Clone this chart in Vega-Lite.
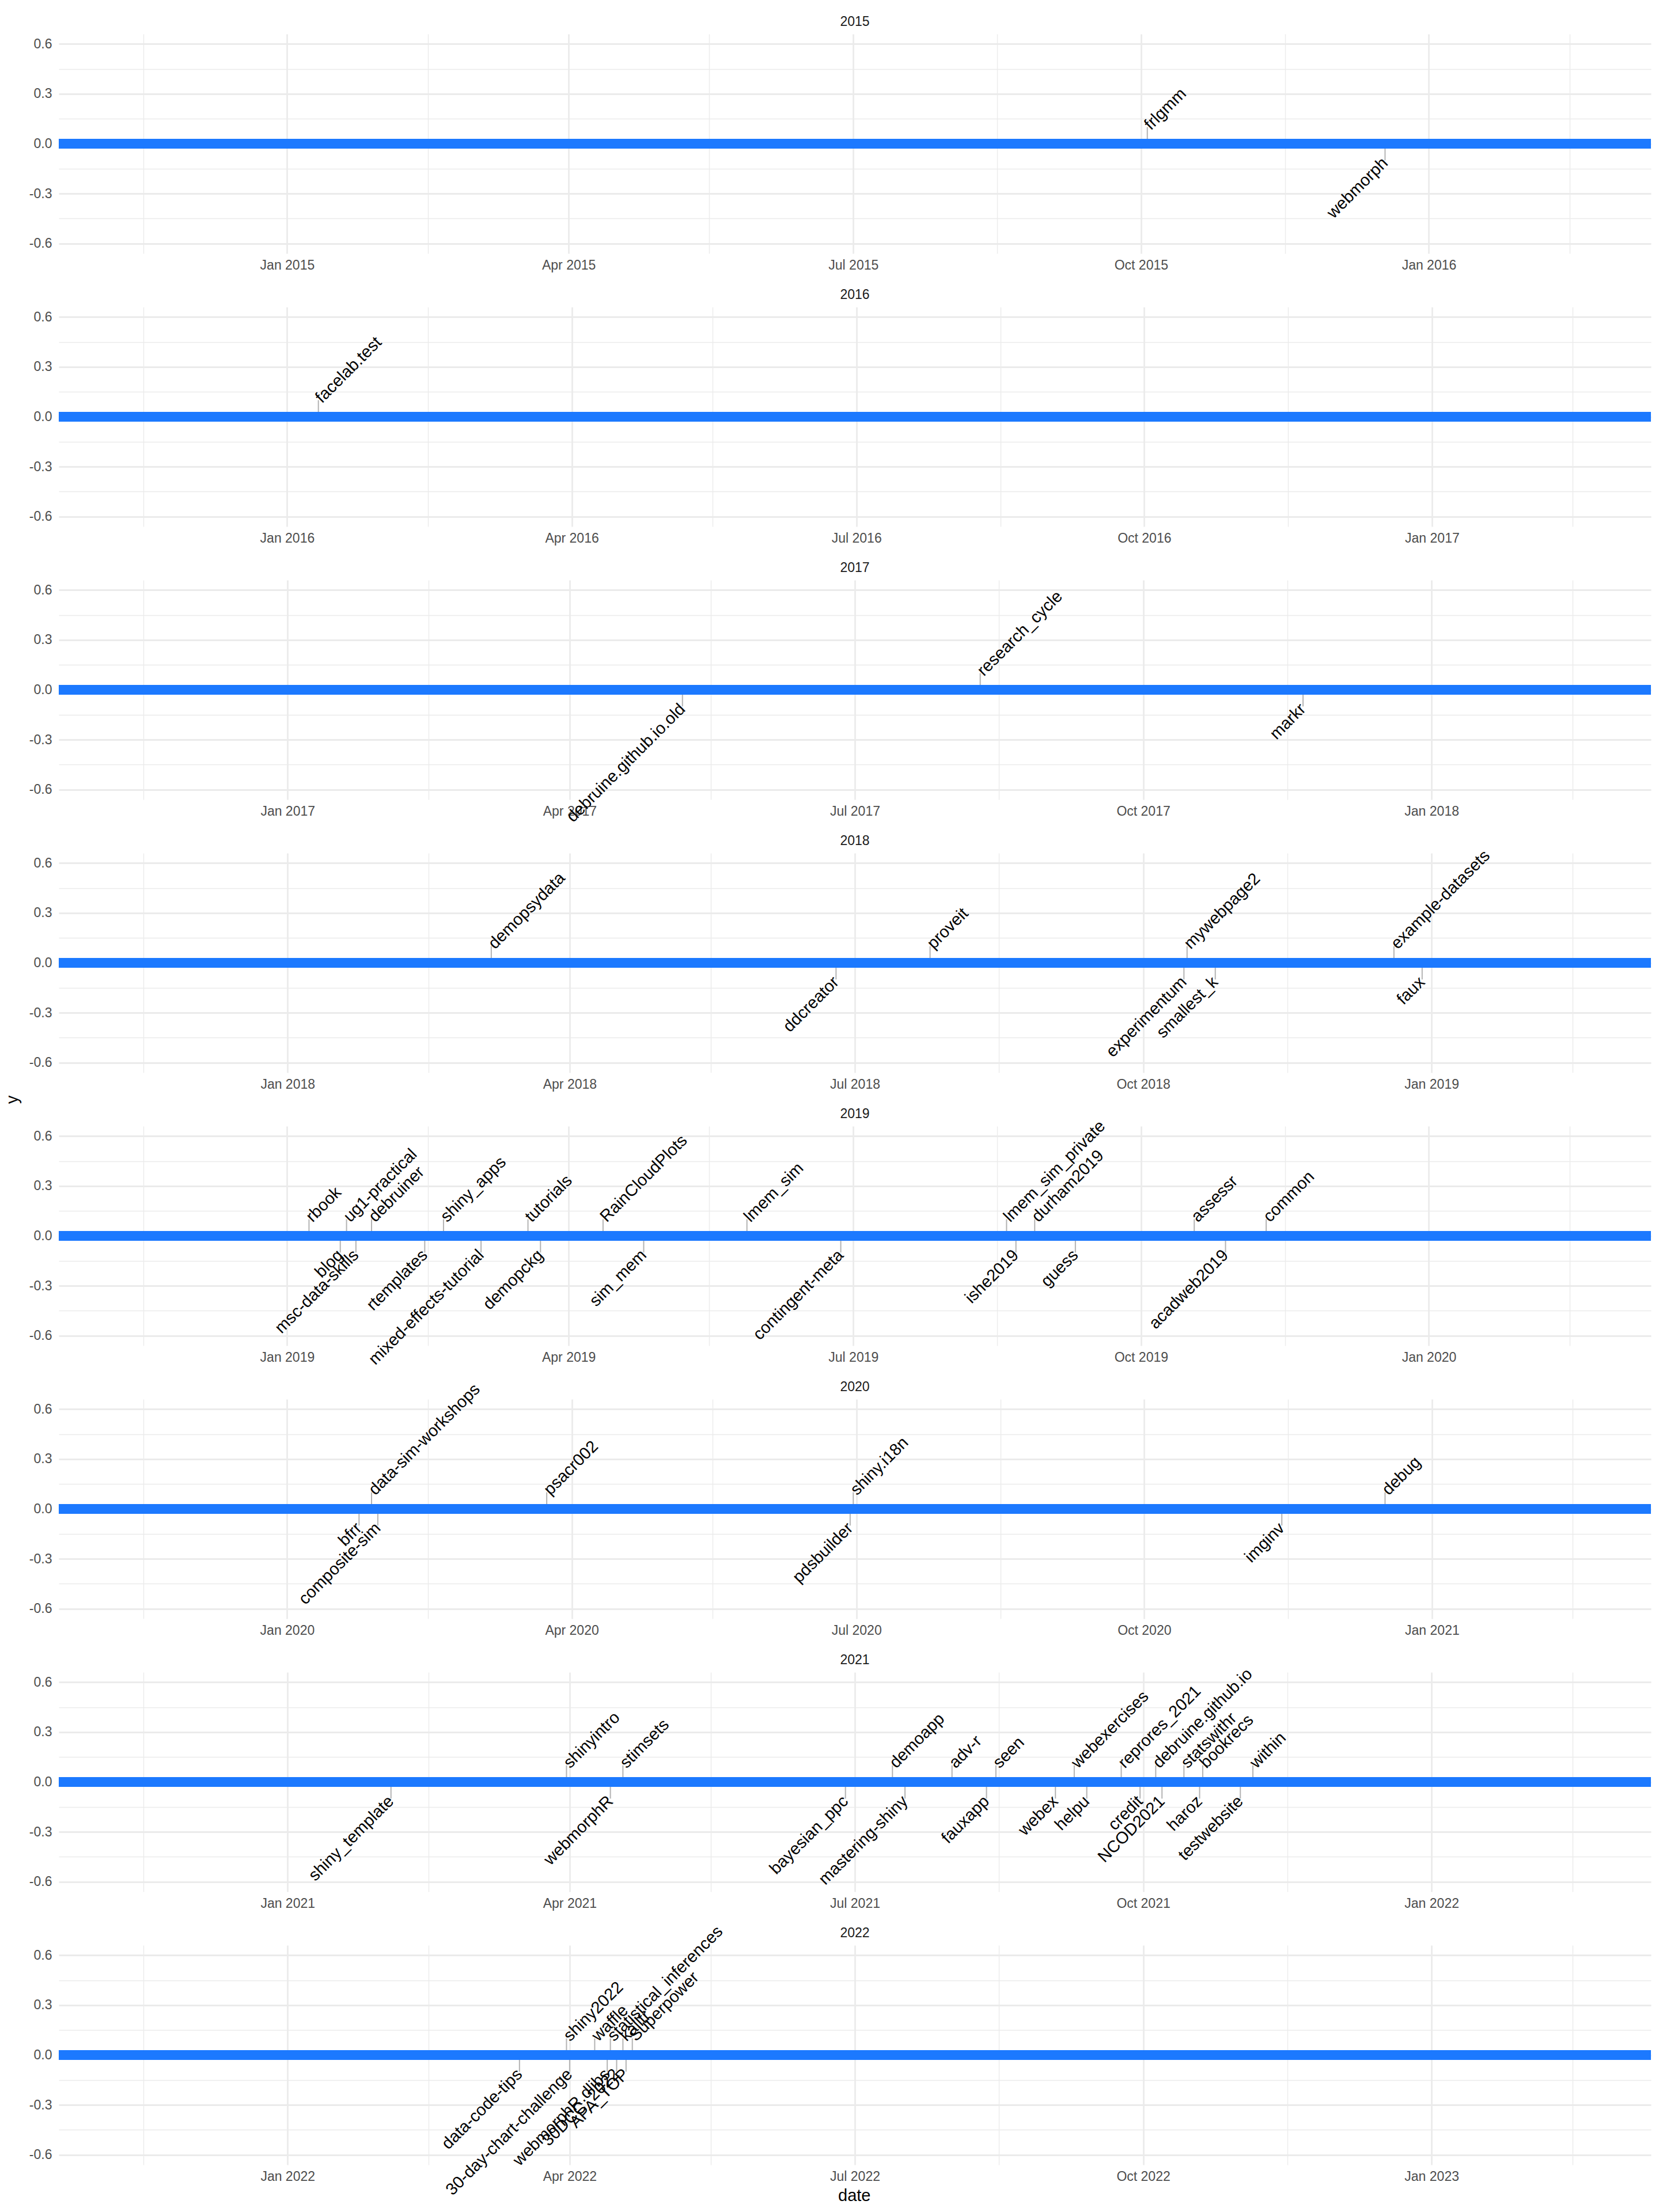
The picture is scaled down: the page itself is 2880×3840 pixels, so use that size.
{
  "$schema": "https://vega.github.io/schema/vega-lite/v6.json",
  "background": "white",
  "padding": {"left": 8, "top": 1, "right": 14, "bottom": 4},
  "bounds": "flush",
  "data": {
    "values": [
      {"year": 2015, "kind": "span", "start": "2014-10-20", "end": "2016-03-12"},
      {"year": 2016, "kind": "span", "start": "2015-10-20", "end": "2017-03-12"},
      {"year": 2017, "kind": "span", "start": "2016-10-20", "end": "2018-03-12"},
      {"year": 2018, "kind": "span", "start": "2017-10-20", "end": "2019-03-12"},
      {"year": 2019, "kind": "span", "start": "2018-10-20", "end": "2020-03-12"},
      {"year": 2020, "kind": "span", "start": "2019-10-20", "end": "2021-03-12"},
      {"year": 2021, "kind": "span", "start": "2020-10-20", "end": "2022-03-12"},
      {"year": 2022, "kind": "span", "start": "2021-10-20", "end": "2023-03-12"},

      {"year": 2015, "kind": "repo", "name": "frlgmm", "date": "2015-10-03", "y": 0.1},
      {"year": 2015, "kind": "repo", "name": "webmorph", "date": "2015-12-18", "y": -0.1},

      {"year": 2016, "kind": "repo", "name": "facelab.test", "date": "2016-01-11", "y": 0.1},

      {"year": 2017, "kind": "repo", "name": "debruine.github.io.old", "date": "2017-05-07", "y": -0.1},
      {"year": 2017, "kind": "repo", "name": "research_cycle", "date": "2017-08-10", "y": 0.1},
      {"year": 2017, "kind": "repo", "name": "markr", "date": "2017-11-21", "y": -0.1},

      {"year": 2018, "kind": "repo", "name": "demopsydata", "date": "2018-03-07", "y": 0.1},
      {"year": 2018, "kind": "repo", "name": "ddcreator", "date": "2018-06-25", "y": -0.1},
      {"year": 2018, "kind": "repo", "name": "proveit", "date": "2018-07-25", "y": 0.1},
      {"year": 2018, "kind": "repo", "name": "experimentum", "date": "2018-10-14", "y": -0.1},
      {"year": 2018, "kind": "repo", "name": "mywebpage2", "date": "2018-10-15", "y": 0.1},
      {"year": 2018, "kind": "repo", "name": "smallest_k", "date": "2018-10-24", "y": -0.1},
      {"year": 2018, "kind": "repo", "name": "example-datasets", "date": "2018-12-20", "y": 0.1},
      {"year": 2018, "kind": "repo", "name": "faux", "date": "2018-12-29", "y": -0.1},

      {"year": 2019, "kind": "repo", "name": "rbook", "date": "2019-01-08", "y": 0.1},
      {"year": 2019, "kind": "repo", "name": "blog", "date": "2019-01-18", "y": -0.1},
      {"year": 2019, "kind": "repo", "name": "ug1-practical", "date": "2019-01-20", "y": 0.1},
      {"year": 2019, "kind": "repo", "name": "msc-data-skills", "date": "2019-01-23", "y": -0.1},
      {"year": 2019, "kind": "repo", "name": "debruiner", "date": "2019-01-28", "y": 0.1},
      {"year": 2019, "kind": "repo", "name": "rtemplates", "date": "2019-02-14", "y": -0.1},
      {"year": 2019, "kind": "repo", "name": "shiny_apps", "date": "2019-02-20", "y": 0.1},
      {"year": 2019, "kind": "repo", "name": "mixed-effects-tutorial", "date": "2019-03-04", "y": -0.1},
      {"year": 2019, "kind": "repo", "name": "tutorials", "date": "2019-03-19", "y": 0.1},
      {"year": 2019, "kind": "repo", "name": "demopckg", "date": "2019-03-23", "y": -0.1},
      {"year": 2019, "kind": "repo", "name": "RainCloudPlots", "date": "2019-04-12", "y": 0.1},
      {"year": 2019, "kind": "repo", "name": "sim_mem", "date": "2019-04-25", "y": -0.1},
      {"year": 2019, "kind": "repo", "name": "lmem_sim", "date": "2019-05-28", "y": 0.1},
      {"year": 2019, "kind": "repo", "name": "contingent-meta", "date": "2019-06-27", "y": -0.1},
      {"year": 2019, "kind": "repo", "name": "lmem_sim_private", "date": "2019-08-19", "y": 0.1},
      {"year": 2019, "kind": "repo", "name": "ishe2019", "date": "2019-08-22", "y": -0.1},
      {"year": 2019, "kind": "repo", "name": "durham2019", "date": "2019-08-28", "y": 0.1},
      {"year": 2019, "kind": "repo", "name": "guess", "date": "2019-09-10", "y": -0.1},
      {"year": 2019, "kind": "repo", "name": "assessr", "date": "2019-10-18", "y": 0.1},
      {"year": 2019, "kind": "repo", "name": "acadweb2019", "date": "2019-10-28", "y": -0.1},
      {"year": 2019, "kind": "repo", "name": "common", "date": "2019-11-10", "y": 0.1},

      {"year": 2020, "kind": "repo", "name": "bfrr", "date": "2020-01-24", "y": -0.1},
      {"year": 2020, "kind": "repo", "name": "data-sim-workshops", "date": "2020-01-28", "y": 0.1},
      {"year": 2020, "kind": "repo", "name": "composite-sim", "date": "2020-01-30", "y": -0.1},
      {"year": 2020, "kind": "repo", "name": "psacr002", "date": "2020-03-24", "y": 0.1},
      {"year": 2020, "kind": "repo", "name": "pdsbuilder", "date": "2020-06-29", "y": -0.1},
      {"year": 2020, "kind": "repo", "name": "shiny.i18n", "date": "2020-06-30", "y": 0.1},
      {"year": 2020, "kind": "repo", "name": "imginv", "date": "2020-11-14", "y": -0.1},
      {"year": 2020, "kind": "repo", "name": "debug", "date": "2020-12-17", "y": 0.1},

      {"year": 2021, "kind": "repo", "name": "shiny_template", "date": "2021-02-03", "y": -0.1},
      {"year": 2021, "kind": "repo", "name": "shinyintro", "date": "2021-03-31", "y": 0.1},
      {"year": 2021, "kind": "repo", "name": "webmorphR", "date": "2021-04-14", "y": -0.1},
      {"year": 2021, "kind": "repo", "name": "stimsets", "date": "2021-04-18", "y": 0.1},
      {"year": 2021, "kind": "repo", "name": "bayesian_ppc", "date": "2021-06-28", "y": -0.1},
      {"year": 2021, "kind": "repo", "name": "demoapp", "date": "2021-07-13", "y": 0.1},
      {"year": 2021, "kind": "repo", "name": "mastering-shiny", "date": "2021-07-17", "y": -0.1},
      {"year": 2021, "kind": "repo", "name": "adv-r", "date": "2021-08-01", "y": 0.1},
      {"year": 2021, "kind": "repo", "name": "fauxapp", "date": "2021-08-12", "y": -0.1},
      {"year": 2021, "kind": "repo", "name": "seen", "date": "2021-08-15", "y": 0.1},
      {"year": 2021, "kind": "repo", "name": "webex", "date": "2021-09-03", "y": -0.1},
      {"year": 2021, "kind": "repo", "name": "webexercises", "date": "2021-09-09", "y": 0.1},
      {"year": 2021, "kind": "repo", "name": "helpu", "date": "2021-09-13", "y": -0.1},
      {"year": 2021, "kind": "repo", "name": "reprores_2021", "date": "2021-09-24", "y": 0.1},
      {"year": 2021, "kind": "repo", "name": "credit", "date": "2021-09-30", "y": -0.1},
      {"year": 2021, "kind": "repo", "name": "debruine.github.io", "date": "2021-10-05", "y": 0.1},
      {"year": 2021, "kind": "repo", "name": "NCOD2021", "date": "2021-10-07", "y": -0.1},
      {"year": 2021, "kind": "repo", "name": "statswithr", "date": "2021-10-14", "y": 0.1},
      {"year": 2021, "kind": "repo", "name": "haroz", "date": "2021-10-19", "y": -0.1},
      {"year": 2021, "kind": "repo", "name": "bookrecs", "date": "2021-10-20", "y": 0.1},
      {"year": 2021, "kind": "repo", "name": "testwebsite", "date": "2021-11-01", "y": -0.1},
      {"year": 2021, "kind": "repo", "name": "within", "date": "2021-11-05", "y": 0.1},

      {"year": 2022, "kind": "repo", "name": "data-code-tips", "date": "2022-03-16", "y": -0.1},
      {"year": 2022, "kind": "repo", "name": "shiny2022", "date": "2022-03-31", "y": 0.1},
      {"year": 2022, "kind": "repo", "name": "30-day-chart-challenge", "date": "2022-04-01", "y": -0.1},
      {"year": 2022, "kind": "repo", "name": "waffle", "date": "2022-04-09", "y": 0.1},
      {"year": 2022, "kind": "repo", "name": "webmorphR.dlibs", "date": "2022-04-13", "y": -0.1},
      {"year": 2022, "kind": "repo", "name": "statistical_inferences", "date": "2022-04-14", "y": 0.1},
      {"year": 2022, "kind": "repo", "name": "30DCC_2022", "date": "2022-04-16", "y": -0.1},
      {"year": 2022, "kind": "repo", "name": "kalltr", "date": "2022-04-18", "y": 0.1},
      {"year": 2022, "kind": "repo", "name": "APA_TOP", "date": "2022-04-19", "y": -0.1},
      {"year": 2022, "kind": "repo", "name": "Superpower", "date": "2022-04-21", "y": 0.1}
    ]
  },
  "title": {
    "text": "date",
    "orient": "bottom",
    "anchor": "middle",
    "font": "Liberation Sans",
    "fontSize": 29,
    "fontWeight": "normal",
    "color": "#000000",
    "offset": -19,
    "dx": 42
  },
  "facet": {
    "row": {
      "field": "year",
      "type": "ordinal",
      "header": {
        "title": "y",
        "titleOrient": "left",
        "titleAngle": -90,
        "titleFont": "Liberation Sans",
        "titleFontSize": 29,
        "titleFontWeight": "normal",
        "titleColor": "#000000",
        "titlePadding": 26,
        "labelOrient": "top",
        "labelAngle": 0,
        "labelAnchor": "middle",
        "labelFont": "Liberation Sans",
        "labelFontSize": 23,
        "labelColor": "#1a1a1a",
        "labelPadding": -72
      }
    }
  },
  "spacing": 93,
  "resolve": {"scale": {"x": "independent", "y": "independent"}},
  "spec": {
    "width": 2764,
    "height": 381,
    "resolve": {"axis": {"x": "independent", "y": "independent"}},
    "layer": [
      {
        "transform": [{"filter": "datum.kind === 'repo'"}],
        "mark": {"type": "rule", "color": "#b3b3b3", "strokeWidth": 2},
        "encoding": {
          "x": {
            "field": "date",
            "type": "temporal",
            "scale": {"type": "utc", "nice": false},
            "axis": {
              "orient": "bottom",
              "title": null,
              "format": "%b %Y",
              "tickCount": {"interval": "month", "step": 3},
              "ticks": false,
              "domain": false,
              "grid": true,
              "gridColor": "#ebebeb",
              "gridWidth": 2.8,
              "labelFont": "Liberation Sans",
              "labelFontSize": 23,
              "labelColor": "#4d4d4d",
              "labelPadding": 9,
              "labelFlush": false,
              "labelOverlap": false
            }
          },
          "y": {
            "field": "y",
            "type": "quantitative",
            "scale": {"domain": [-0.66, 0.66], "nice": false, "zero": false},
            "axis": {
              "orient": "left",
              "title": null,
              "values": [-0.6, -0.3, 0, 0.3, 0.6],
              "format": ".1f",
              "labelExpr": "replace(datum.label, '−', '-')",
              "ticks": false,
              "domain": false,
              "grid": true,
              "gridColor": "#ebebeb",
              "gridWidth": 2.8,
              "labelFont": "Liberation Sans",
              "labelFontSize": 23,
              "labelColor": "#4d4d4d",
              "labelPadding": 12
            }
          },
          "y2": {"datum": 0}
        }
      },
      {
        "transform": [{"filter": "datum.kind === 'span'"}],
        "mark": {"type": "rule", "color": "#1c79ff", "strokeWidth": 17, "strokeCap": "butt"},
        "encoding": {
          "x": {
            "field": "start",
            "type": "temporal",
            "scale": {"type": "utc", "nice": false},
            "axis": {
              "orient": "bottom",
              "title": null,
              "values": [
                {"year": 2014, "month": 11, "date": 16, "utc": true},
                {"year": 2015, "month": 2, "date": 15, "utc": true},
                {"year": 2015, "month": 5, "date": 16, "utc": true},
                {"year": 2015, "month": 8, "date": 16, "utc": true},
                {"year": 2015, "month": 11, "date": 16, "utc": true},
                {"year": 2016, "month": 2, "date": 15, "utc": true},
                {"year": 2016, "month": 5, "date": 16, "utc": true},
                {"year": 2016, "month": 8, "date": 16, "utc": true},
                {"year": 2016, "month": 11, "date": 16, "utc": true},
                {"year": 2017, "month": 2, "date": 15, "utc": true},
                {"year": 2017, "month": 5, "date": 16, "utc": true},
                {"year": 2017, "month": 8, "date": 16, "utc": true},
                {"year": 2017, "month": 11, "date": 16, "utc": true},
                {"year": 2018, "month": 2, "date": 15, "utc": true},
                {"year": 2018, "month": 5, "date": 16, "utc": true},
                {"year": 2018, "month": 8, "date": 16, "utc": true},
                {"year": 2018, "month": 11, "date": 16, "utc": true},
                {"year": 2019, "month": 2, "date": 15, "utc": true},
                {"year": 2019, "month": 5, "date": 16, "utc": true},
                {"year": 2019, "month": 8, "date": 16, "utc": true},
                {"year": 2019, "month": 11, "date": 16, "utc": true},
                {"year": 2020, "month": 2, "date": 15, "utc": true},
                {"year": 2020, "month": 5, "date": 16, "utc": true},
                {"year": 2020, "month": 8, "date": 16, "utc": true},
                {"year": 2020, "month": 11, "date": 16, "utc": true},
                {"year": 2021, "month": 2, "date": 15, "utc": true},
                {"year": 2021, "month": 5, "date": 16, "utc": true},
                {"year": 2021, "month": 8, "date": 16, "utc": true},
                {"year": 2021, "month": 11, "date": 16, "utc": true},
                {"year": 2022, "month": 2, "date": 15, "utc": true},
                {"year": 2022, "month": 5, "date": 16, "utc": true},
                {"year": 2022, "month": 8, "date": 16, "utc": true},
                {"year": 2022, "month": 11, "date": 16, "utc": true},
                {"year": 2023, "month": 2, "date": 15, "utc": true}
              ],
              "labels": false,
              "ticks": false,
              "domain": false,
              "grid": true,
              "gridColor": "#ebebeb",
              "gridWidth": 1.4
            }
          },
          "x2": {"field": "end"},
          "y": {
            "datum": 0,
            "type": "quantitative",
            "scale": {"domain": [-0.66, 0.66], "nice": false, "zero": false},
            "axis": {
              "orient": "left",
              "title": null,
              "values": [-0.45, -0.15, 0.15, 0.45],
              "labels": false,
              "ticks": false,
              "domain": false,
              "grid": true,
              "gridColor": "#ebebeb",
              "gridWidth": 1.4
            }
          }
        }
      },
      {
        "transform": [{"filter": "datum.kind === 'repo' && datum.y > 0"}],
        "mark": {"type": "text", "align": "left", "baseline": "middle", "angle": -45, "font": "Liberation Sans", "fontSize": 29, "color": "#000000"},
        "encoding": {
          "x": {
            "field": "date",
            "type": "temporal",
            "axis": {
              "orient": "top",
              "title": null,
              "tickCount": 1,
              "labels": false,
              "grid": false,
              "domain": false,
              "ticks": true,
              "tickSize": 58,
              "tickOpacity": 0
            }
          },
          "y": {"field": "y", "type": "quantitative", "axis": null},
          "text": {"field": "name", "type": "nominal"}
        }
      },
      {
        "transform": [{"filter": "datum.kind === 'repo' && datum.y < 0"}],
        "mark": {"type": "text", "align": "right", "baseline": "middle", "angle": -45, "font": "Liberation Sans", "fontSize": 29, "color": "#000000"},
        "encoding": {
          "x": {"field": "date", "type": "temporal", "axis": null},
          "y": {"field": "y", "type": "quantitative", "axis": null},
          "text": {"field": "name", "type": "nominal"}
        }
      }
    ]
  },
  "config": {
    "view": {"stroke": null},
    "font": "Liberation Sans"
  }
}
